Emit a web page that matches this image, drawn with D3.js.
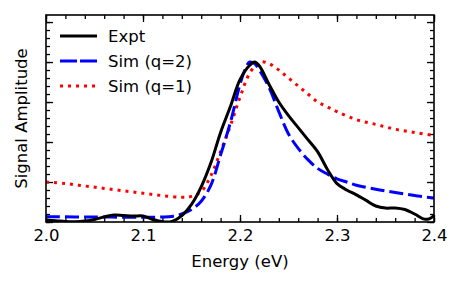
<!DOCTYPE html>
<html>
<head>
<meta charset="utf-8">
<script src="https://cdn.jsdelivr.net/npm/d3@7"></script>
<style>
  body { margin: 0; background: #fff; }
  svg text { font-family: "DejaVu Sans", sans-serif; fill: #000; }
</style>
</head>
<body>
<div id="chart"></div>
<script>
// data
var exptE = [2.00, 2.01, 2.02, 2.03, 2.04, 2.05, 2.06, 2.07, 2.08, 2.09, 2.10, 2.11, 2.12, 2.13, 2.14, 2.15, 2.16, 2.17, 2.18, 2.19, 2.20, 2.21, 2.215, 2.22, 2.23, 2.24, 2.25, 2.26, 2.27, 2.28, 2.29, 2.30, 2.31, 2.32, 2.33, 2.34, 2.35, 2.36, 2.37, 2.38, 2.39, 2.395, 2.40];
var exptV = [0.012, 0.008, 0.003, 0.002, 0.006, 0.016, 0.032, 0.043, 0.040, 0.037, 0.038, 0.016, 0.002, 0.004, 0.04, 0.11, 0.22, 0.37, 0.56, 0.72, 0.89, 0.98, 1.0, 0.975, 0.86, 0.75, 0.665, 0.59, 0.515, 0.44, 0.33, 0.24, 0.20, 0.17, 0.135, 0.10, 0.087, 0.088, 0.078, 0.05, 0.018, 0.02, 0.04];

var simQ2E = [2.00, 2.05, 2.10, 2.12, 2.13, 2.14, 2.15, 2.16, 2.17, 2.18, 2.19, 2.20, 2.205, 2.21, 2.215, 2.22, 2.23, 2.24, 2.25, 2.26, 2.27, 2.28, 2.29, 2.30, 2.31, 2.32, 2.34, 2.36, 2.38, 2.40];
var simQ2V = [0.033, 0.031, 0.03, 0.031, 0.035, 0.05, 0.078, 0.13, 0.23, 0.42, 0.62, 0.86, 0.95, 1.0, 0.99, 0.95, 0.84, 0.69, 0.55, 0.46, 0.39, 0.335, 0.30, 0.27, 0.25, 0.23, 0.205, 0.185, 0.165, 0.15];

var simQ1E = [2.00, 2.02, 2.04, 2.06, 2.08, 2.10, 2.12, 2.14, 2.15, 2.16, 2.17, 2.18, 2.19, 2.20, 2.21, 2.22, 2.23, 2.24, 2.25, 2.26, 2.27, 2.28, 2.29, 2.30, 2.32, 2.34, 2.36, 2.38, 2.40];
var simQ1V = [0.25, 0.24, 0.225, 0.21, 0.195, 0.18, 0.165, 0.155, 0.16, 0.19, 0.29, 0.44, 0.60, 0.78, 0.93, 1.0, 0.99, 0.95, 0.90, 0.85, 0.80, 0.75, 0.72, 0.69, 0.64, 0.61, 0.58, 0.56, 0.54];

var xTicks = [2.0, 2.1, 2.2, 2.3, 2.4];
var legendNames = ["Expt", "Sim (q=2)", "Sim (q=1)"];

var width = 463, height = 285;
var margin = {left: 46, right: 29, top: 15, bottom: 63};

var svg = d3.select("#chart").append("svg")
    .attr("width", width)
    .attr("height", height);

var xScale = d3.scaleLinear()
    .domain([2.0, 2.4])
    .range([margin.left, width - margin.right]);

var yScale = d3.scaleLinear()
    .domain([0, 1.294])
    .range([height - margin.bottom, margin.top]);

var x0 = margin.left, x1 = width - margin.right;
var y0 = height - margin.bottom, y1 = margin.top;

// minor / major ticks, pointing inward on all sides
var xMinor = d3.range(0, 21).map(function(i) { return 2.0 + i * 0.02; });
var yMinor = d3.range(0, 26).map(function(i) { return i * 0.05; });
var yMajor = d3.range(0, 6).map(function(i) { return i * 0.25; });

var bottomMinor = d3.axisBottom(xScale).tickValues(xMinor).tickSize(-4).tickFormat("");
var bottomMajor = d3.axisBottom(xScale).tickValues(xTicks).tickSize(-7).tickPadding(7)
    .tickFormat(d3.format(".1f"));
var topMinor = d3.axisTop(xScale).tickValues(xMinor).tickSize(-4).tickFormat("");
var topMajor = d3.axisTop(xScale).tickValues(xTicks).tickSize(-7).tickFormat("");
var leftMinor = d3.axisLeft(yScale).tickValues(yMinor).tickSize(-4).tickFormat("");
var leftMajor = d3.axisLeft(yScale).tickValues(yMajor).tickSize(-7).tickFormat("");
var rightMinor = d3.axisRight(yScale).tickValues(yMinor).tickSize(-4).tickFormat("");
var rightMajor = d3.axisRight(yScale).tickValues(yMajor).tickSize(-7).tickFormat("");

function addAxis(ax, tx, ty) {
    var g = svg.append("g")
        .attr("transform", "translate(" + tx + "," + ty + ")")
        .call(ax);
    g.select(".domain").remove();
    g.selectAll(".tick line").attr("stroke", "#000").attr("stroke-width", 1.3);
    return g;
}

addAxis(bottomMinor, 0, y0);
var gx = addAxis(bottomMajor, 0, y0);
gx.selectAll("text").style("font-size", "16.5px");
addAxis(topMinor, 0, y1);
addAxis(topMajor, 0, y1);
addAxis(leftMinor, x0, 0);
addAxis(leftMajor, x0, 0);
addAxis(rightMinor, x1, 0);
addAxis(rightMajor, x1, 0);

// curves
var clip = svg.append("clipPath").attr("id", "clip")
    .append("rect")
    .attr("x", x0).attr("y", y1)
    .attr("width", x1 - x0).attr("height", y0 - y1);

function pts(es, vs) {
    return es.map(function(e, i) { return [e, vs[i]]; });
}

var line = d3.line()
    .x(function(d) { return xScale(d[0]); })
    .y(function(d) { return yScale(d[1]); })
    .curve(d3.curveCatmullRom.alpha(0.5));

var plot = svg.append("g").attr("clip-path", "url(#clip)");

plot.append("path")
    .attr("d", line(pts(simQ1E, simQ1V)))
    .attr("fill", "none")
    .attr("stroke", "#ff0000")
    .attr("stroke-width", 3)
    .attr("stroke-dasharray", "3,5");

plot.append("path")
    .attr("d", line(pts(simQ2E, simQ2V)))
    .attr("fill", "none")
    .attr("stroke", "#0000ff")
    .attr("stroke-width", 3)
    .attr("stroke-dasharray", "14,5");

plot.append("path")
    .attr("d", line(pts(exptE, exptV)))
    .attr("fill", "none")
    .attr("stroke", "#000")
    .attr("stroke-width", 3);

// frame
svg.append("rect")
    .attr("x", x0).attr("y", y1)
    .attr("width", x1 - x0).attr("height", y0 - y1)
    .attr("fill", "none")
    .attr("stroke", "#000")
    .attr("stroke-width", 1.6);

// legend
var legendStyle = [
    {color: "#000", dash: null},
    {color: "#0000ff", dash: "17,3"},
    {color: "#ff0000", dash: "3,5"}
];
var legend = svg.selectAll(".legend")
    .data(legendNames)
    .enter()
    .append("g")
    .attr("transform", function(d, i) { return "translate(60," + (36 + i * 25) + ")"; });

legend.append("line")
    .attr("x1", 0).attr("x2", 37)
    .attr("y1", 0).attr("y2", 0)
    .attr("stroke", function(d, i) { return legendStyle[i].color; })
    .attr("stroke-width", 3)
    .attr("stroke-dasharray", function(d, i) { return legendStyle[i].dash; });

legend.append("text")
    .attr("x", 48)
    .attr("y", 6)
    .style("font-size", "16.5px")
    .text(function(d) { return d; });

// axis labels
svg.append("text")
    .attr("x", (x0 + x1) / 2)
    .attr("y", 267)
    .attr("text-anchor", "middle")
    .style("font-size", "16.5px")
    .text("Energy (eV)");

svg.append("text")
    .attr("transform", "translate(27," + ((y0 + y1) / 2) + ") rotate(-90)")
    .attr("text-anchor", "middle")
    .style("font-size", "16.5px")
    .text("Signal Amplitude");
</script>
</body>
</html>
